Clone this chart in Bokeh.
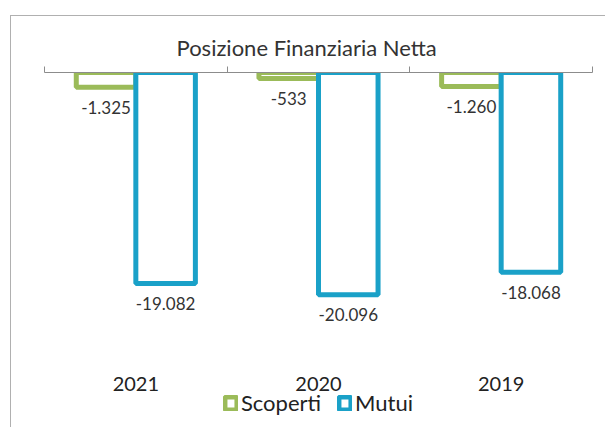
from bokeh.plotting import figure
from bokeh.models import (ColumnDataSource, Range1d, LinearAxis,
                          FixedTicker, Legend, LegendItem)
from bokeh.transform import dodge
from bokeh.core.properties import value
from bokeh.embed import file_html
from bokeh.resources import INLINE

years = ["2021", "2020", "2019"]
scoperti = [-1325, -533, -1260]
mutui = [-19082, -20096, -18068]
series_names = ["Scoperti", "Mutui"]
title_text = "Posizione Finanziaria Netta"

GREEN = "#9BBB59"
TEAL = "#1AA1C8"
FONT = "Lato"
YEAR_LABEL_Y = -28200   # vertical place of the category labels (layout)


def it_fmt(v):
    return f"{v:,}".replace(",", ".")


centers = [i + 0.5 for i in range(len(years))]
edges = list(range(len(years) + 1))
src = ColumnDataSource(dict(
    pos=centers,
    year=years,
    scoperti=scoperti,
    mutui=mutui,
    s_lab=[it_fmt(v) for v in scoperti],
    m_lab=[it_fmt(v) for v in mutui],
))

p = figure(x_range=Range1d(0, len(years)), y_range=Range1d(-32200, 0),
           width=595, height=412, output_backend="svg", toolbar_location=None,
           x_axis_location=None, y_axis_location=None,
           min_border_left=33, min_border_right=14, min_border_top=56,
           min_border_bottom=0, outline_line_color=None,
           background_fill_color="white", border_fill_color="white")
p.xgrid.visible = False
p.ygrid.visible = False
p.styles = {"border-left": "1px solid #b0b0b0", "border-top": "1px solid #b0b0b0",
            "margin-left": "10px", "margin-top": "15px"}

p.title.text = title_text
p.title.align = "left"
p.title.text_font = FONT
p.title.text_font_size = "22px"
p.title.text_font_style = "normal"
p.title.text_color = "#333333"
p.title.offset = 132
p.title.standoff = 11

top = LinearAxis(ticker=FixedTicker(ticks=edges),
                 major_label_overrides={e: "" for e in edges},
                 major_label_text_font_size="2px", major_label_standoff=0,
                 major_tick_in=0, major_tick_out=6,
                 minor_tick_line_color=None,
                 axis_line_color="#8c8c8c", major_tick_line_color="#8c8c8c")
p.add_layout(top, "above")

r1 = p.vbar(x=dodge("pos", -0.163), top=0, bottom="scoperti",
            width=0.326, source=src, fill_color="white", line_color=GREEN,
            line_width=5)
r2 = p.vbar(x=dodge("pos", 0.163), top=0, bottom="mutui",
            width=0.326, source=src, fill_color="white", line_color=TEAL,
            line_width=5)

p.text(x=dodge("pos", -0.163), y="scoperti", text="s_lab",
       source=src, text_align="center", text_baseline="middle", y_offset=20,
       text_font=value(FONT), text_font_size="17px", text_color="#333333")
p.text(x=dodge("pos", 0.163), y="mutui", text="m_lab",
       source=src, text_align="center", text_baseline="middle", y_offset=20,
       text_font=value(FONT), text_font_size="17px", text_color="#333333")

# category labels (years) under the bars
p.text(x="pos", y=YEAR_LABEL_Y, text="year", source=src,
       text_align="center", text_baseline="middle",
       text_font=value(FONT), text_font_size="20px", text_color="#222222")

legend = Legend(items=[LegendItem(label=series_names[0], renderers=[r1]),
                       LegendItem(label=series_names[1], renderers=[r2])],
                orientation="horizontal", location="bottom_center",
                border_line_color=None, background_fill_alpha=0,
                label_text_font=FONT, label_text_font_size="22px",
                label_text_color="#222222",
                glyph_width=15, glyph_height=16, spacing=16, padding=0,
                margin=12, label_standoff=3)
p.add_layout(legend)

open("out.html", "w").write(file_html(p, INLINE))
